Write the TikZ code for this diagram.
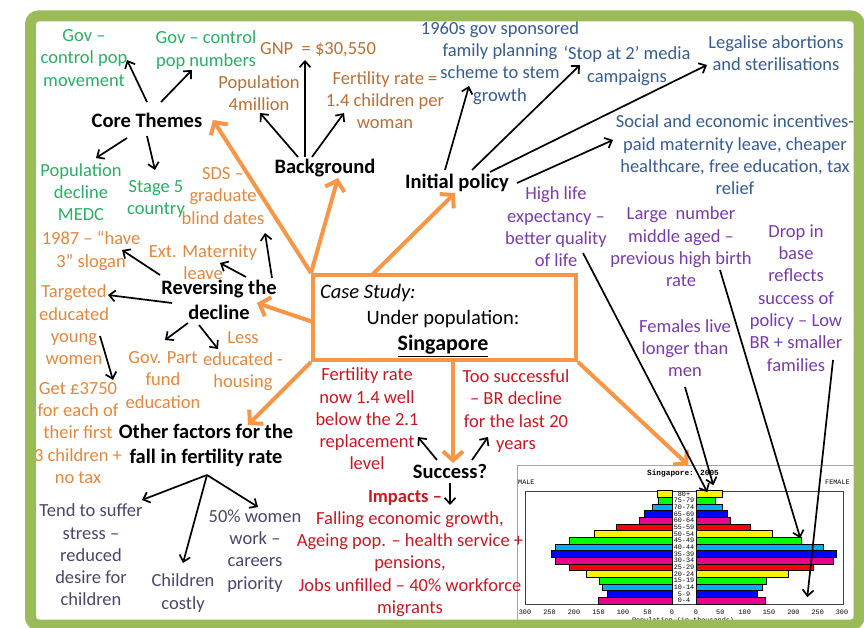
\documentclass[tikz,border=0pt]{standalone}
\usepackage{fontspec}
\setmainfont{Carlito}
\newfontfamily\monof{Liberation Mono}
\usetikzlibrary{arrows.meta,calc}
\definecolor{cGreen}{RGB}{45,172,100}
\definecolor{cBrown}{RGB}{185,112,55}
\definecolor{cOrTxt}{RGB}{226,135,62}
\definecolor{cBlue}{RGB}{55,92,142}
\definecolor{cPurple}{RGB}{120,60,170}
\definecolor{cRed}{RGB}{195,25,35}
\definecolor{cSlate}{RGB}{75,70,105}
\definecolor{cOrange}{RGB}{247,150,70}
\definecolor{cFrame}{RGB}{155,187,89}
\begin{document}
\begin{tikzpicture}[x=1pt,y=-1pt,
  txt/.style={align=center, inner sep=0pt, font=\fontsize{18.5}{22.3}\selectfont},
  gt/.style={txt, text=cGreen},
  bt/.style={txt, text=cBrown},
  ot/.style={txt, text=cOrTxt},
  lt/.style={txt, text=cBlue},
  pt/.style={txt, text=cPurple},
  rt/.style={txt, text=cRed},
  st/.style={txt, text=cSlate},
  hd/.style={align=center, inner sep=0pt, font=\fontsize{20.5}{25}\selectfont\bfseries},
  ba/.style={line width=1.7pt, -{Straight Barb[length=6pt,width=11pt]}},
  oa/.style={cOrange, line width=4pt, -{Straight Barb[length=9pt,width=20pt]}},
  mono/.style={inner sep=0pt, font=\monof\fontsize{6.8}{6.8}\selectfont},
]
\useasboundingbox (0,0) rectangle (864,628);
\fill[white] (0,0) rectangle (864,628);

% ---------- population pyramid picture ----------
\node[draw=black!35, fill=white, line width=0.8pt, minimum width=360pt, minimum height=180pt, inner sep=0pt, anchor=north west] (img) at (517,465) {};
\node[mono, font=\monof\fontsize{7.8}{7.8}\selectfont\bfseries] (ptitle) at (683,473) {Singapore: 2005};
\node[mono, anchor=west] (male) at (518,482) {MALE};
\node[mono, anchor=west] (female) at (825,482) {FEMALE};
\node[draw=black!75, line width=0.6pt, minimum width=318pt, minimum height=113.3pt, inner sep=0pt, anchor=north west] (plot) at (525,490.7) {};
\foreach \i/\l/\r/\c in {0/31/53/yellow, 1/28/40/green, 2/41/53/cyan, 3/57/65/blue, 4/67/70/magenta, 5/113/111/red,
  6/159/157/yellow, 7/210/217/green, 8/239/261/cyan, 9/246/287/blue, 10/239/281/magenta, 11/210/240/red,
  12/175/189/yellow, 13/149/145/green, 14/143/137/cyan, 15/133/126/blue, 16/151/142/magenta}{
  \pgfmathsetmacro\yt{490.7+\i*6.667}
  \pgfmathsetmacro\yb{\yt+6.667}
  \draw[fill=\c, line width=0.5pt] ({672-\l*0.49},\yt) rectangle (672,\yb);
  \draw[fill=\c, line width=0.5pt] (696,\yt) rectangle ({696+\r*0.487},\yb);
}
\foreach \i/\a in {0/80+, 1/75-79, 2/70-74, 3/65-69, 4/60-64, 5/55-59, 6/50-54, 7/45-49, 8/40-44,
  9/35-39, 10/30-34, 11/25-29, 12/20-24, 13/15-19, 14/10-14, 15/5-9, 16/0-4}{
  \node[mono] (age\i) at (684,{494.03+\i*6.667}) {\a};
}
\foreach \v/\xx in {300/525, 250/549.5, 200/574, 150/598.5, 100/623, 50/647.5, 0/672}{
  \node[mono] (tl\v) at (\xx,612) {\v};
}
\foreach \v/\xx in {0/696, 50/720.3, 100/744.7, 150/769, 200/793.4, 250/817.7, 300/842}{
  \node[mono] (tr\v) at (\xx,612) {\v};
}
\node[mono] (paxis) at (683,621) {Population (in thousands)};

% ---------- central box ----------
\node[draw=cOrange, line width=4pt, fill=white, minimum width=263pt, minimum height=85pt, inner sep=0pt] (box) at (444.5,317.5) {};
\node[anchor=west, inner sep=0pt, font=\fontsize{20.5}{24}\selectfont\itshape] (cs) at (320,293) {Case Study:};
\node[inner sep=0pt, font=\fontsize{20.5}{24}\selectfont] (under) at (443,319) {Under population:};
\node[inner sep=0pt, font=\fontsize{22}{26}\selectfont\bfseries] (sing) at (443,346) {\underline{Singapore}};

% ---------- Core themes ----------
\node[gt] (govmove) at (84,58) {Gov –\\control pop\\movement};
\node[gt] (govnum) at (206,50) {Gov – control\\pop numbers};
\node[hd] (core) at (147,120) {Core Themes};
\node[gt] (popdec) at (81,192) {Population\\decline\\MEDC};
\node[gt] (stage) at (156,199) {Stage 5\\country};

% ---------- Background ----------
\node[bt] (gnp) at (318,50) {GNP\ \ = \$30,550};
\node[bt] (pop4) at (259,93) {Population\\4million};
\node[bt] (fert) at (385,100) {Fertility rate =\\1.4 children per\\woman};
\node[hd] (bg) at (325,168) {Background};

% ---------- Initial policy ----------
\node[hd] (ip) at (457,183) {Initial policy};
\node[lt] (fp1960) at (500,63) {1960s gov sponsored\\family planning\\scheme to stem\\growth};
\node[lt] (stop2) at (627,66) {‘Stop at 2’ media\\campaigns};
\node[lt] (legal) at (776,53) {Legalise abortions\\and sterilisations};
\node[lt] (social) at (735,155) {Social and economic incentives-\\paid maternity leave, cheaper\\healthcare, free education, tax\\relief};

% ---------- pyramid notes ----------
\node[pt] (highlife) at (556,227) {High life\\expectancy –\\better quality\\of life};
\node[pt] (middle) at (681,247) {Large\ \ number\\middle aged –\\previous high birth\\rate};
\node[pt] (drop) at (796,298) {Drop in\\base\\reflects\\success of\\policy – Low\\BR + smaller\\families};
\node[pt] (females) at (685,348) {Females live\\longer than\\men};

% ---------- Success ----------
\node[rt] (frnow) at (367,419) {Fertility rate\\now 1.4 well\\below the 2.1\\replacement\\level};
\node[rt] (toosucc) at (516,411) {Too successful\\– BR decline\\for the last 20\\years};
\node[hd] (succ) at (450,471) {Success?};
\node[rt, font=\fontsize{18.5}{22.3}\selectfont\bfseries] (impacts) at (405,498) {Impacts –};
\node[rt] (impbody) at (410,564) {Falling economic growth,\\Ageing pop. – health service +\\pensions,\\Jobs unfilled – 40\% workforce\\migrants};

% ---------- Other factors ----------
\node[hd] (other) at (206,445) {Other factors for the\\fall in fertility rate};
\node[st] (stress) at (91,555) {Tend to suffer\\stress –\\reduced\\desire for\\children};
\node[st] (costly) at (183,593) {Children\\costly};
\node[st] (women50) at (255,551) {50\% women\\work –\\careers\\priority};

% ---------- Reversing the decline ----------
\node[ot] (sds) at (223,196) {SDS –\\graduate\\blind dates};
\node[ot] (matern) at (203,262) {Ext. Maternity\\leave};
\node[ot] (s1987) at (91,251) {1987 – “have\\3” slogan};
\node[hd] (rev) at (219,300) {Reversing the\\decline};
\node[ot] (target) at (74,325) {Targeted\\educated\\young\\women};
\node[ot] (get) at (78,433) {Get £3750\\for each of\\their first\\3 children +\\no tax};
\node[ot] (govpart) at (163,380) {Gov. Part\\fund\\education};
\node[ot] (less) at (243,361) {Less\\educated -\\housing};

% ---------- orange connectors ----------
\draw[oa] (box.north west) -- ([shift={(66,0)}]core.center);
\draw[oa] (box.north west) -- ([shift={(13,10)}]bg.center);
\draw[oa] ([shift={(-72.5,-42.5)}]box.center) -- ([shift={(-2,10)}]ip.center);
\draw[oa] ([shift={(-131.5,4.5)}]box.center) -- ([shift={(38,3)}]rev.center);
\draw[oa] (box.south west) -- ([shift={(42,-20)}]other.center);
\draw[oa] ([shift={(8.5,42.5)}]box.center) -- ([shift={(3,-8)}]succ.center);
\draw[oa] (box.south east) -- ([shift={(4,-82.5)}]plot.center);

% ---------- black connectors ----------
\draw[ba] ([shift={(0,-18)}]core.center) -- ([shift={(43,2)}]govmove.center);
\draw[ba] ([shift={(14,-18)}]core.center) -- ([shift={(-14,20)}]govnum.center);
\draw[ba] ([shift={(-20,18)}]core.center) -- ([shift={(15,-34)}]popdec.center);
\draw[ba] ([shift={(0,16)}]core.center) -- ([shift={(-1,-29)}]stage.center);

\draw[ba] ([shift={(-27,-11)}]bg.center) -- ([shift={(1,20)}]pop4.center);
\draw[ba] ([shift={(-20,-11)}]bg.center) -- ([shift={(-13,10)}]gnp.center);
\draw[ba] ([shift={(-13,-11)}]bg.center) -- ([shift={(-41,13)}]fert.center);

\draw[ba] ([shift={(-12,-13)}]ip.center) -- ([shift={(-31,23)}]fp1960.center);
\draw[ba] ([shift={(15,-13)}]ip.center) -- ([shift={(-47,-1)}]stop2.center);
\draw[ba] ([shift={(33,-11)}]ip.center) -- ([shift={(-69,12)}]legal.center);
\draw[ba] ([shift={(60,0)}]ip.center) -- ([shift={(-122,-15)}]social.center);

\draw[ba] ([shift={(53,-22)}]rev.center) -- ([shift={(42,37)}]sds.center);
\draw[ba] ([shift={(27,-23)}]rev.center) -- ([shift={(17,1)}]matern.center);
\draw[ba] ([shift={(-59,-25)}]rev.center) -- ([shift={(31,-1)}]s1987.center);
\draw[ba] ([shift={(-47,3)}]rev.center) -- ([shift={(34,-30)}]target.center);
\draw[ba] ([shift={(-31,23)}]rev.center) -- ([shift={(2,-40)}]govpart.center);
\draw[ba] ([shift={(-20,25)}]rev.center) -- ([shift={(-25,-12)}]less.center);
\draw[ba] ([shift={(26,11)}]target.center) -- ([shift={(35,-53)}]get.center);

\draw[ba] ([shift={(-13,-11)}]succ.center) -- ([shift={(51,18)}]frnow.center);
\draw[ba] ([shift={(22,-11)}]succ.center) -- ([shift={(-28,26)}]toosucc.center);
\draw[ba] ([shift={(0,12)}]succ.center) -- ([shift={(45,7)}]impacts.center);

\coordinate (ofork) at ([shift={(1,30)}]other.center);
\draw[ba] (ofork) -- ([shift={(51,-55)}]stress.center);
\draw[ba] (ofork) -- ([shift={(0,-30)}]costly.center);
\draw[ba] (ofork) -- ([shift={(3,-44)}]women50.center);

\draw[ba] ([shift={(27,26)}]highlife.center) -- ([shift={(23,-55.5)}]plot.center);
\draw[ba] ([shift={(0,39)}]females.center) -- ([shift={(29,-62.5)}]plot.center);
\draw[ba] ([shift={(39,23)}]middle.center) -- ([shift={(116,-9.5)}]plot.center);
\draw[ba] ([shift={(37,62)}]drop.center) -- ([shift={(123,49.5)}]plot.center);

% ---------- green frame ----------
\draw[cFrame, line width=11pt, rounded corners=8pt] (30.5,16) rectangle (859,625);
\end{tikzpicture}
\end{document}
